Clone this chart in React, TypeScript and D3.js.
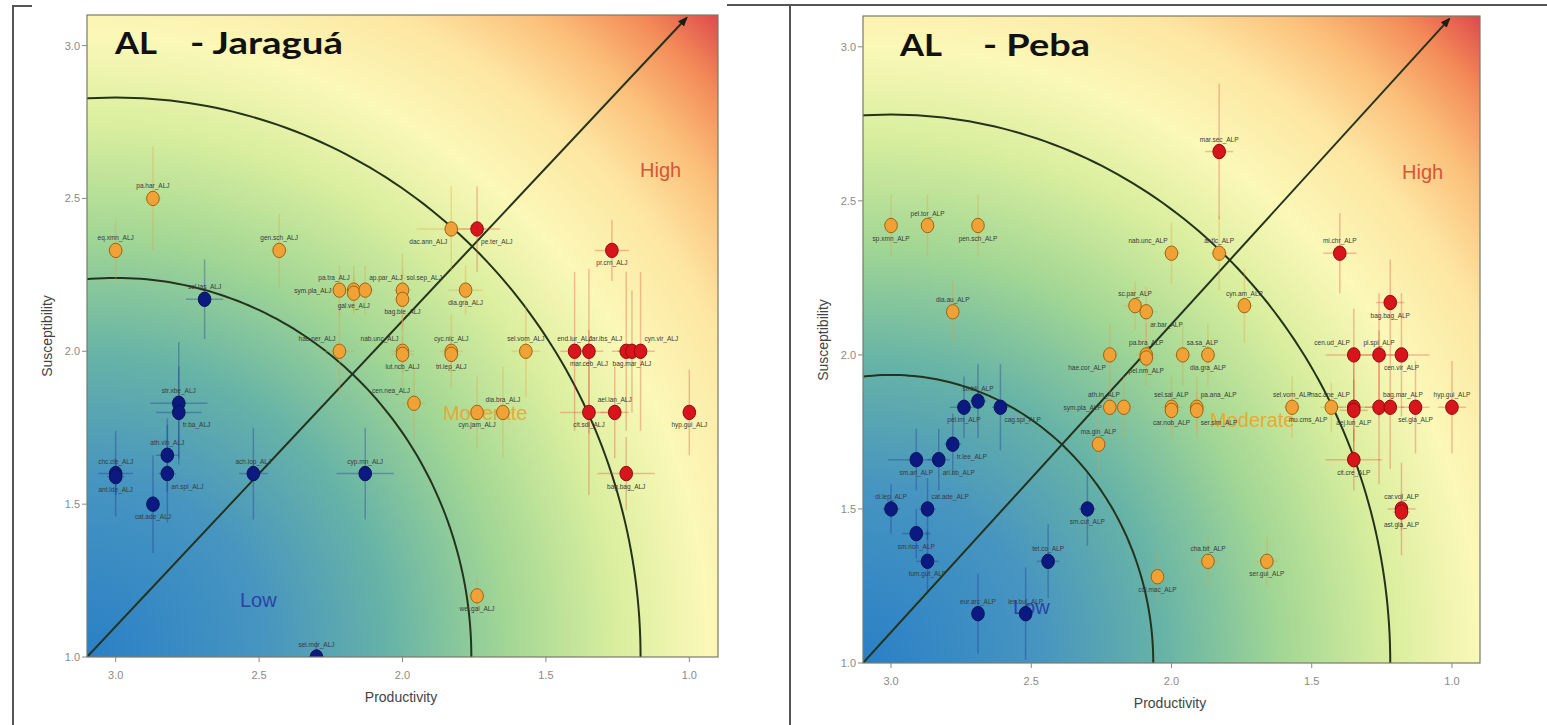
import React from "react";
import * as d3 from "d3";

// [label, productivity, susceptibility, prodErr, suscErr, risk, labelSide]
type Pt = [string, number, number, number, number, string, string];

const xTicks = [3.0, 2.5, 2.0, 1.5, 1.0];
const yTicks = [1.0, 1.5, 2.0, 2.5, 3.0];
const jaraguaRadii = [1.24, 1.83];
const pebaRadii = [0.935, 1.78];
const zoneNames = ["Low", "Moderate", "High"];

const jaraguaPoints: Pt[] = [
  ["pa.har_ALJ", 2.87, 2.5, 0.03, 0.17, "M", "a"],
  ["eq.xmn_ALJ", 3.0, 2.33, 0.03, 0.1, "M", "a"],
  ["gen.sch_ALJ", 2.43, 2.33, 0.03, 0.12, "M", "a"],
  ["sym.pla_ALJ", 2.22, 2.2, 0.05, 0.08, "M", "l"],
  ["pa.tra_ALJ", 2.17, 2.2, 0.03, 0.08, "M", "al"],
  ["gal.ve_ALJ", 2.17, 2.19, 0.03, 0.06, "M", "b"],
  ["ap.par_ALJ", 2.13, 2.2, 0.03, 0.08, "M", "ar"],
  ["sol.sep_ALJ", 2.0, 2.2, 0.03, 0.12, "M", "ar"],
  ["bag.bie_ALJ", 2.0, 2.17, 0.03, 0.1, "M", "b"],
  ["dia.gra_ALJ", 1.78, 2.2, 0.06, 0.08, "M", "b"],
  ["dac.ann_ALJ", 1.83, 2.4, 0.12, 0.14, "M", "bl"],
  ["hae.ner_ALJ", 2.22, 2.0, 0.05, 0.15, "M", "al"],
  ["nab.unc_ALJ", 2.0, 2.0, 0.04, 0.12, "M", "al"],
  ["lut.ncb_ALJ", 2.0, 1.99, 0.04, 0.06, "M", "b"],
  ["cyc.nic_ALJ", 1.83, 2.0, 0.04, 0.12, "M", "a"],
  ["tri.lep_ALJ", 1.83, 1.99, 0.03, 0.06, "M", "b"],
  ["sel.vom_ALJ", 1.57, 2.0, 0.05, 0.15, "M", "a"],
  ["cen.nea_ALJ", 1.96, 1.83, 0.04, 0.12, "M", "al"],
  ["cyn.jam_ALJ", 1.74, 1.8, 0.04, 0.12, "M", "b"],
  ["dia.bra_ALJ", 1.65, 1.8, 0.04, 0.15, "M", "a"],
  ["wel.gal_ALJ", 1.74, 1.2, 0.03, 0.06, "M", "b"],
  ["pe.ter_ALJ", 1.74, 2.4, 0.08, 0.14, "H", "br"],
  ["pr.crn_ALJ", 1.27, 2.33, 0.06, 0.1, "H", "b"],
  ["end.lur_ALJ", 1.4, 2.0, 0.05, 0.26, "H", "a"],
  ["mar.ceb_ALJ", 1.35, 2.0, 0.05, 0.27, "H", "b"],
  ["car.ibs_ALJ", 1.22, 2.0, 0.05, 0.26, "H", "al"],
  ["bag.mar_ALJ", 1.2, 2.0, 0.05, 0.2, "H", "b"],
  ["cyn.vir_ALJ", 1.17, 2.0, 0.05, 0.26, "H", "ar"],
  ["cit.sdi_ALJ", 1.35, 1.8, 0.1, 0.27, "H", "b"],
  ["ael.lan_ALJ", 1.26, 1.8, 0.05, 0.15, "H", "a"],
  ["hyp.gui_ALJ", 1.0, 1.8, 0.02, 0.14, "H", "b"],
  ["bag.bag_ALJ", 1.22, 1.6, 0.1, 0.12, "H", "b"],
  ["sel.las_ALJ", 2.69, 2.17, 0.065, 0.13, "L", "a"],
  ["str.xbe_ALJ", 2.78, 1.83, 0.1, 0.2, "L", "a"],
  ["tr.ba_ALJ", 2.78, 1.8, 0.08, 0.15, "L", "br"],
  ["ath.vin_ALJ", 2.82, 1.66, 0.04, 0.12, "L", "a"],
  ["chc.cle_ALJ", 3.0, 1.6, 0.06, 0.14, "L", "a"],
  ["ant.lde_ALJ", 3.0, 1.59, 0.03, 0.06, "L", "b"],
  ["ari.spl_ALJ", 2.82, 1.6, 0.03, 0.16, "L", "br"],
  ["cat.ade_ALJ", 2.87, 1.5, 0.02, 0.16, "L", "b"],
  ["ach.lop_ALJ", 2.52, 1.6, 0.05, 0.15, "L", "a"],
  ["cyp.mn_ALJ", 2.13, 1.6, 0.1, 0.15, "L", "a"],
  ["sel.mor_ALJ", 2.3, 1.0, 0.03, 0.05, "L", "a"],
];

const pebaPoints: Pt[] = [
  ["sp.xmn_ALP", 3.0, 2.42, 0.02, 0.1, "M", "b"],
  ["pel.tor_ALP", 2.87, 2.42, 0.02, 0.1, "M", "a"],
  ["pen.sch_ALP", 2.69, 2.42, 0.02, 0.1, "M", "b"],
  ["dia.au_ALP", 2.78, 2.14, 0.02, 0.1, "M", "a"],
  ["nab.unc_ALP", 2.0, 2.33, 0.03, 0.1, "M", "al"],
  ["ar.tlc_ALP", 1.83, 2.33, 0.03, 0.12, "M", "a"],
  ["cyn.am_ALP", 1.74, 2.16, 0.03, 0.12, "M", "a"],
  ["sc.par_ALP", 2.13, 2.16, 0.04, 0.08, "M", "a"],
  ["ar.bar_ALP", 2.09, 2.14, 0.04, 0.08, "M", "br"],
  ["hae.cor_ALP", 2.22, 2.0, 0.03, 0.1, "M", "bl"],
  ["pa.bra_ALP", 2.09, 2.0, 0.04, 0.1, "M", "a"],
  ["pel.nm_ALP", 2.09, 1.99, 0.03, 0.06, "M", "b"],
  ["sa.sa_ALP", 1.96, 2.0, 0.03, 0.1, "M", "ar"],
  ["dia.gra_ALP", 1.87, 2.0, 0.03, 0.1, "M", "b"],
  ["sym.pla_ALP", 2.22, 1.83, 0.04, 0.1, "M", "l"],
  ["ath.in_ALP", 2.17, 1.83, 0.04, 0.1, "M", "al"],
  ["sel.sal_ALP", 2.0, 1.83, 0.04, 0.1, "M", "a"],
  ["car.nob_ALP", 2.0, 1.82, 0.03, 0.06, "M", "b"],
  ["pa.ana_ALP", 1.91, 1.83, 0.03, 0.1, "M", "ar"],
  ["ser.sim_ALP", 1.91, 1.82, 0.03, 0.06, "M", "br"],
  ["sel.vom_ALP", 1.57, 1.83, 0.03, 0.1, "M", "a"],
  ["mu.cms_ALP", 1.43, 1.83, 0.04, 0.08, "M", "bl"],
  ["ma.gin_ALP", 2.26, 1.71, 0.03, 0.1, "M", "a"],
  ["col.mac_ALP", 2.05, 1.28, 0.03, 0.08, "M", "b"],
  ["cha.bit_ALP", 1.87, 1.33, 0.04, 0.08, "M", "a"],
  ["ser.gui_ALP", 1.66, 1.33, 0.04, 0.08, "M", "b"],
  ["mar.sec_ALP", 1.83, 2.66, 0.05, 0.22, "H", "a"],
  ["mi.chr_ALP", 1.4, 2.33, 0.06, 0.13, "H", "a"],
  ["bag.bag_ALP", 1.22, 2.17, 0.05, 0.14, "H", "b"],
  ["cen.ud_ALP", 1.35, 2.0, 0.1, 0.15, "H", "al"],
  ["pl.spi_ALP", 1.26, 2.0, 0.1, 0.2, "H", "a"],
  ["cen.vir_ALP", 1.18, 2.0, 0.1, 0.2, "H", "b"],
  ["mac.ane_ALP", 1.35, 1.83, 0.08, 0.15, "H", "al"],
  ["aej.lun_ALP", 1.35, 1.82, 0.05, 0.1, "H", "b"],
  ["bag.mar_ALP", 1.26, 1.83, 0.05, 0.25, "H", "ar"],
  ["", 1.22, 1.83, 0.05, 0.2, "H", "a"],
  ["sel.gla_ALP", 1.13, 1.83, 0.05, 0.15, "H", "b"],
  ["hyp.gui_ALP", 1.0, 1.83, 0.05, 0.15, "H", "a"],
  ["cit.cre_ALP", 1.35, 1.66, 0.1, 0.1, "H", "b"],
  ["car.vol_ALP", 1.18, 1.5, 0.05, 0.15, "H", "a"],
  ["ast.gla_ALP", 1.18, 1.49, 0.03, 0.06, "H", "b"],
  ["str.bli_ALP", 2.69, 1.85, 0.03, 0.12, "L", "a"],
  ["pel.im_ALP", 2.74, 1.83, 0.05, 0.1, "L", "b"],
  ["cag.spi_ALP", 2.61, 1.83, 0.03, 0.14, "L", "br"],
  ["tr.lee_ALP", 2.78, 1.71, 0.03, 0.1, "L", "br"],
  ["sm.ari_ALP", 2.91, 1.66, 0.1, 0.1, "L", "b"],
  ["ari.nb_ALP", 2.83, 1.66, 0.04, 0.1, "L", "br"],
  ["di.lep_ALP", 3.0, 1.5, 0.03, 0.08, "L", "a"],
  ["cat.ade_ALP", 2.87, 1.5, 0.03, 0.1, "L", "ar"],
  ["sm.rion_ALP", 2.91, 1.42, 0.05, 0.08, "L", "b"],
  ["tum.gut_ALP", 2.87, 1.33, 0.04, 0.1, "L", "b"],
  ["eur.arc_ALP", 2.69, 1.16, 0.02, 0.13, "L", "a"],
  ["len.bul_ALP", 2.52, 1.16, 0.02, 0.15, "L", "a"],
  ["tet.co_ALP", 2.44, 1.33, 0.04, 0.12, "L", "a"],
  ["sm.cut_ALP", 2.3, 1.5, 0.03, 0.12, "L", "b"],
];

const riskFill: Record<string, string> = { L: "#0c1980", M: "#f0a236", H: "#d8141c" };
const riskStroke: Record<string, string> = { L: "#08125a", M: "#9c6410", H: "#8e0c0c" };
const riskBar: Record<string, string> = { L: "#1a2a8a", M: "#e0a040", H: "#e04030" };

const labelOffsets: Record<string, [number, number, string]> = {
  a: [0, -10, "middle"],
  b: [0, 15, "middle"],
  al: [-4, -10, "end"],
  ar: [4, -10, "start"],
  bl: [-4, 15, "end"],
  br: [4, 15, "start"],
  l: [-8, 3, "end"],
};

const gradStops: [number, string][] = [
  [0, "#2a80c6"],
  [0.2, "#4795c0"],
  [0.34, "#68b4a6"],
  [0.47, "#a3d794"],
  [0.59, "#d9ee9e"],
  [0.69, "#fbf8b8"],
  [0.79, "#fde6a2"],
  [0.87, "#fbbf7a"],
  [0.94, "#f38a58"],
  [1, "#de4a4c"],
];

type Box = { x0: number; x1: number; y0: number; y1: number };

function Panel(props: {
  id: string;
  pts: Pt[];
  radii: number[];
  box: Box;
  t1: [string, number, number];
  t2: [string, number, number];
  tBase: number;
  zones: { low: [number, number]; mod: [number, number]; high: [number, number] };
  yTitle: [number, number];
  xTitle: [number, number];
  yTickLabelX: number;
  xTickLabelY: number;
}) {
  const { id, pts, radii, box } = props;
  const x = d3.scaleLinear().domain([3.1, 0.9]).range([box.x0, box.x1]);
  const y = d3.scaleLinear().domain([1.0, 3.1]).range([box.y0, box.y1]);
  const diag = Math.hypot(box.x1 - box.x0, box.y0 - box.y1);
  const line = d3.line<[number, number]>();
  const arc = (r: number) =>
    line(
      d3.range(0, 97, 1).map((a) => {
        const t = (a * Math.PI) / 180;
        return [x(3 - r * Math.cos(t)), y(1 + r * Math.sin(t))] as [number, number];
      })
    ) || "";
  const ax0 = x(3.1), ay0 = y(1.0), ax1 = x(1.01), ay1 = y(3.09);
  return (
    <g>
      <defs>
        <radialGradient id={`g-${id}`} gradientUnits="userSpaceOnUse" cx={box.x0} cy={box.y0} r={diag}>
          {gradStops.map(([o, c]) => (
            <stop key={o} offset={o} stopColor={c} />
          ))}
        </radialGradient>
        <clipPath id={`c-${id}`}>
          <rect x={box.x0} y={box.y1} width={box.x1 - box.x0} height={box.y0 - box.y1} />
        </clipPath>
        <marker id={`m-${id}`} viewBox="0 0 10 10" refX="8" refY="5" markerWidth="5" markerHeight="5" orient="auto">
          <path d="M0,1 L10,5 L0,9 Z" fill="#1e1e10" />
        </marker>
      </defs>
      <rect x={box.x0} y={box.y1} width={box.x1 - box.x0} height={box.y0 - box.y1} fill={`url(#g-${id})`} />
      <g clipPath={`url(#c-${id})`}>
        {radii.map((r) => (
          <path key={r} d={arc(r)} fill="none" stroke="#25331c" strokeWidth={2} />
        ))}
        <line x1={ax0} y1={ay0} x2={ax1} y2={ay1} stroke="#25331c" strokeWidth={2} markerEnd={`url(#m-${id})`} />
        <text x={props.zones.low[0]} y={props.zones.low[1]} fontFamily="Liberation Sans, Arial" fontSize={20} fill="#2a3aa6" opacity={0.9}>{zoneNames[0]}</text>
        <text x={props.zones.mod[0]} y={props.zones.mod[1]} fontFamily="Liberation Sans, Arial" fontSize={20} fill="#f0a428" opacity={0.9}>{zoneNames[1]}</text>
        <text x={props.zones.high[0]} y={props.zones.high[1]} fontFamily="Liberation Sans, Arial" fontSize={20} fill="#d24a2c" opacity={0.9}>{zoneNames[2]}</text>
        {pts.map((p, i) => (
          <g key={"e" + i} stroke={riskBar[p[5]]} strokeOpacity={0.32} strokeWidth={1.5}>
            <line x1={x(p[1] + p[3])} x2={x(p[1] - p[3])} y1={y(p[2])} y2={y(p[2])} />
            <line x1={x(p[1])} x2={x(p[1])} y1={y(p[2] - p[4])} y2={y(p[2] + p[4])} />
          </g>
        ))}
        {pts.map((p, i) => (
          <ellipse key={"p" + i} cx={x(p[1])} cy={y(p[2])} rx={6.3} ry={7.2} fill={riskFill[p[5]]} stroke={riskStroke[p[5]]} strokeWidth={1} />
        ))}
        {pts.map((p, i) => {
          const [dx, dy, anchor] = labelOffsets[p[6]];
          return p[0] ? (
            <text key={"l" + i} x={x(p[1]) + dx} y={y(p[2]) + dy} fontSize={6.5} fontFamily="Liberation Sans, Arial" fill="#3a3a3a" textAnchor={anchor}>
              {p[0]}
            </text>
          ) : null;
        })}
      </g>
      <rect x={box.x0} y={box.y1} width={box.x1 - box.x0} height={box.y0 - box.y1} fill="none" stroke="#7a7a6a" strokeWidth={1.2} />
      {yTicks.map((t) => (
        <g key={"yt" + t}>
          <line x1={box.x0 - 5} x2={box.x0} y1={y(t)} y2={y(t)} stroke="#888" />
          <text x={props.yTickLabelX} y={y(t) + 4} textAnchor="end" fontSize={11} fill="#8a8a8a" fontFamily="Liberation Sans Narrow, Liberation Sans, Arial">
            {t.toFixed(1)}
          </text>
        </g>
      ))}
      {xTicks.map((t) => (
        <g key={"xt" + t}>
          <line x1={x(t)} x2={x(t)} y1={box.y0} y2={box.y0 + 5} stroke="#888" />
          <text x={x(t)} y={props.xTickLabelY} textAnchor="middle" fontSize={11} fill="#8a8a8a" fontFamily="Liberation Sans Narrow, Liberation Sans, Arial">
            {t.toFixed(1)}
          </text>
        </g>
      ))}
      <text x={props.xTitle[0]} y={props.xTitle[1]} textAnchor="middle" fontSize={14} fill="#444" fontFamily="Liberation Sans, Arial">
        Productivity
      </text>
      <text transform={`translate(${props.yTitle[0]},${props.yTitle[1]}) rotate(-90)`} textAnchor="middle" fontSize={14} fill="#444" fontFamily="Liberation Sans, Arial">
        Susceptibility
      </text>
      <text x={props.t1[1]} y={props.tBase} fontSize={31} fontWeight={700} fontFamily="Lato, Open Sans, sans-serif" fill="#111" textLength={props.t1[2]} lengthAdjust="spacingAndGlyphs">
        {props.t1[0]}
      </text>
      <text x={props.t2[1]} y={props.tBase} fontSize={31} fontWeight={700} fontFamily="Lato, Open Sans, sans-serif" fill="#111" textLength={props.t2[2]} lengthAdjust="spacingAndGlyphs">
        {props.t2[0]}
      </text>
    </g>
  );
}

export default function App() {
  return (
    <svg width={1547} height={725} style={{ position: "absolute", left: 0, top: 0, background: "#fff" }}>
      <rect width={1547} height={725} fill="#fff" />
      <Panel
        id="jar"
        pts={jaraguaPoints}
        radii={jaraguaRadii}
        box={{ x0: 87, x1: 718, y0: 657, y1: 15 }}
        t1={["AL", 115, 42]}
        t2={["- Jaraguá", 190, 153]}
        tBase={54}
        zones={{ low: [240, 607], mod: [443, 420], high: [640, 177] }}
        yTitle={[52, 336]}
        xTitle={[401, 702]}
        yTickLabelX={80}
        xTickLabelY={679}
      />
      <Panel
        id="peb"
        pts={pebaPoints}
        radii={pebaRadii}
        box={{ x0: 863, x1: 1480, y0: 663, y1: 16 }}
        t1={["AL", 900, 42]}
        t2={["- Peba", 983, 107]}
        tBase={56}
        zones={{ low: [1013, 614], mod: [1210, 427], high: [1402, 179] }}
        yTitle={[828, 340]}
        xTitle={[1170, 708]}
        yTickLabelX={856}
        xTickLabelY={685}
      />
      <g stroke="#555" strokeWidth={2} fill="none">
        <path d="M32,6 L13,6 L13,725" />
        <path d="M727,5 L1547,5" />
        <path d="M790,5 L790,725" />
      </g>
    </svg>
  );
}
